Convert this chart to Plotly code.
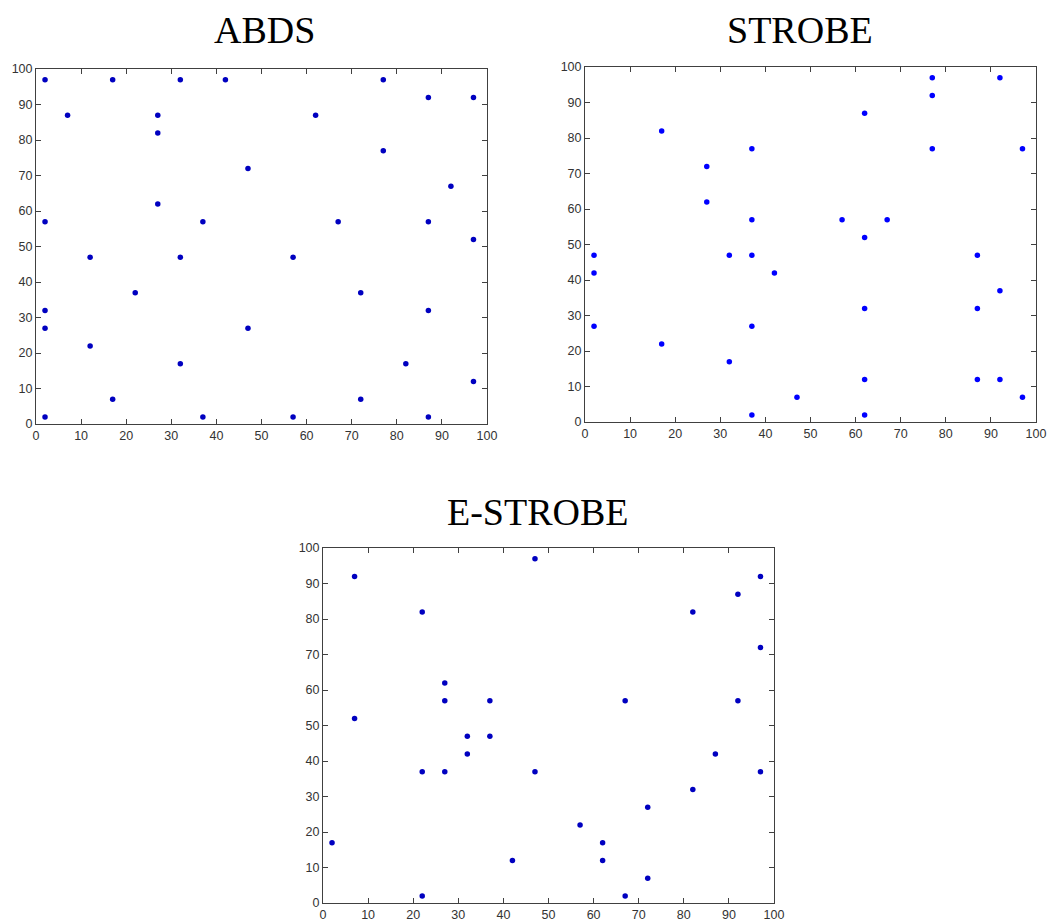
import plotly.graph_objects as go

# ABDS panel
abds_x = [2, 7, 17, 27, 27, 32, 42, 47, 27, 2, 37, 62, 77, 87, 97, 77, 92, 67, 87, 97,
          12, 32, 57, 22, 72, 2, 2, 47, 87, 12, 32, 82, 17, 72, 97, 2, 37, 57, 87]
abds_y = [97, 87, 97, 87, 82, 97, 97, 72, 62, 57, 57, 87, 97, 92, 92, 77, 67, 57, 57, 52,
          47, 47, 47, 37, 37, 32, 27, 27, 32, 22, 17, 17, 7, 7, 12, 2, 2, 2, 2]

# STROBE panel
strobe_x = [2, 2, 2, 17, 17, 27, 27, 32, 32, 37, 37, 37, 37, 37, 42, 47, 57, 62, 62, 62,
            62, 62, 67, 77, 77, 77, 87, 87, 87, 92, 92, 92, 97, 97]
strobe_y = [47, 42, 27, 82, 22, 72, 62, 47, 17, 77, 57, 47, 27, 2, 42, 7, 57, 87, 52, 32,
            12, 2, 57, 97, 92, 77, 47, 32, 12, 97, 37, 12, 77, 7]

# E-STROBE panel
estrobe_x = [2, 7, 7, 22, 22, 22, 27, 27, 27, 32, 32, 37, 37, 42, 47, 47, 57, 62, 62, 67,
             67, 72, 72, 82, 82, 87, 92, 92, 97, 97, 97]
estrobe_y = [17, 92, 52, 82, 37, 2, 62, 57, 37, 47, 42, 57, 47, 12, 97, 37, 22, 17, 12, 57,
             2, 27, 7, 82, 32, 42, 87, 57, 92, 72, 37]

titles = ["ABDS", "STROBE", "E-STROBE"]
tick_vals = [0, 10, 20, 30, 40, 50, 60, 70, 80, 90, 100]

W, H = 1050, 923
# plot area boxes in pixels: (left, right, top, bottom)
boxes = [(36, 487, 69, 424), (585, 1036, 67, 422), (323, 774, 548, 903)]
colors = ["#0000c0", "#0000ff", "#0000c0"]
data = [(abds_x, abds_y), (strobe_x, strobe_y), (estrobe_x, estrobe_y)]
title_pos = [(264, 30), (800, 30), (538, 512)]

fig = go.Figure()
for i, ((xs, ys), (l, r, t, b), col) in enumerate(zip(data, boxes, colors)):
    n = "" if i == 0 else str(i + 1)
    fig.add_trace(go.Scatter(x=xs, y=ys, mode="markers", xaxis="x" + n, yaxis="y" + n,
                             marker=dict(color=col, size=5.5, symbol="circle"),
                             showlegend=False, hoverinfo="x+y"))
    axcommon = dict(range=[0, 100], tickvals=tick_vals, showgrid=False, zeroline=False,
                    showline=True, linecolor="#404040", linewidth=1, mirror="ticks",
                    ticks="inside", ticklen=5, tickcolor="#404040", automargin=False,
                    tickfont=dict(family="Liberation Sans, Arial", size=12.5, color="#333333"),
                    fixedrange=True)
    fig.layout["xaxis" + n] = dict(axcommon, domain=[l / W, r / W], anchor="y" + n, ticklabelstandoff=0)
    fig.layout["yaxis" + n] = dict(axcommon, domain=[1 - b / H, 1 - t / H], anchor="x" + n)
    tx, ty = title_pos[i]
    fig.add_annotation(text=titles[i], x=tx / W, y=1 - ty / H,
                       xref="paper", yref="paper", xanchor="center", yanchor="middle",
                       showarrow=False,
                       font=dict(family="Liberation Serif, Times New Roman", size=38, color="#000000"))

fig.update_layout(width=W, height=H, margin=dict(l=0, r=0, t=0, b=0, autoexpand=False),
                  paper_bgcolor="white", plot_bgcolor="white", template="none")
fig.write_html("out.html")
